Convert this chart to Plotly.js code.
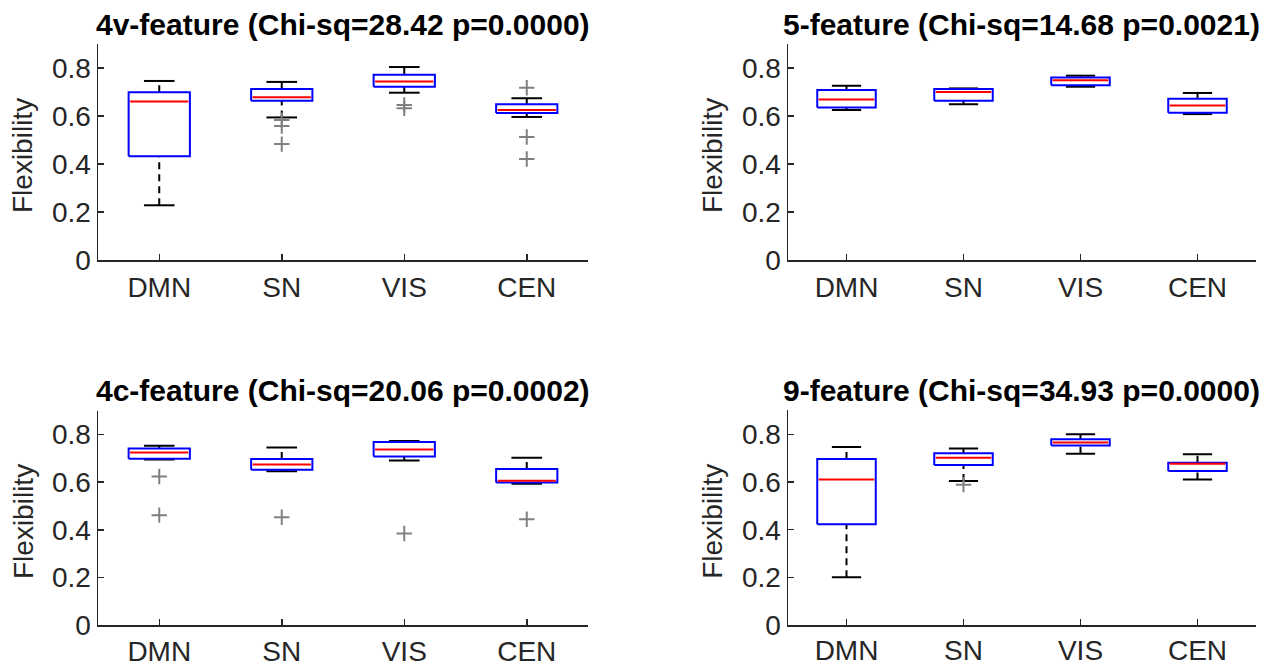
<!DOCTYPE html>
<html>
<head>
<meta charset="utf-8">
<script src="https://cdn.plot.ly/plotly-3.0.1.min.js"></script>
<style>html,body{margin:0;padding:0;background:#fff}#chart{width:1270px;height:670px}</style>
</head>
<body>
<div id="chart"></div>
<script>
// ---- data ----
const categories = ['DMN', 'SN', 'VIS', 'CEN'];
const panelTitles = ['4v-feature (Chi-sq=28.42 p=0.0000)', '5-feature (Chi-sq=14.68 p=0.0021)',
                     '4c-feature (Chi-sq=20.06 p=0.0002)', '9-feature (Chi-sq=34.93 p=0.0000)'];
const yTickVals = [0, 0.2, 0.4, 0.6, 0.8];
const yLabel = 'Flexibility';

// 4v-feature
const v4_lower  = [0.228, 0.594, 0.697, 0.596];
const v4_q1     = [0.432, 0.664, 0.722, 0.6125];
const v4_median = [0.660, 0.678, 0.744, 0.625];
const v4_q3     = [0.699, 0.7125, 0.772, 0.649];
const v4_upper  = [0.746, 0.742, 0.804, 0.674];
const v4_outCat = [2, 2, 2, 3, 3, 4, 4, 4];
const v4_outVal = [0.583, 0.558, 0.483, 0.646, 0.632, 0.718, 0.5125, 0.421];

// 5-feature
const f5_lower  = [0.625, 0.649, 0.722, 0.608];
const f5_q1     = [0.635, 0.664, 0.728, 0.614];
const f5_median = [0.669, 0.700, 0.749, 0.644];
const f5_q3     = [0.708, 0.7125, 0.760, 0.672];
const f5_upper  = [0.726, 0.715, 0.768, 0.696];
const f5_outCat = [];
const f5_outVal = [];

// 4c-feature
const c4_lower  = [0.695, 0.646, 0.691, 0.593];
const c4_q1     = [0.698, 0.652, 0.708, 0.599];
const c4_median = [0.724, 0.674, 0.737, 0.606];
const c4_q3     = [0.741, 0.697, 0.768, 0.655];
const c4_upper  = [0.753, 0.745, 0.773, 0.702];
const c4_outCat = [1, 1, 2, 3, 4];
const c4_outVal = [0.624, 0.462, 0.453, 0.385, 0.445];

// 9-feature
const f9_lower  = [0.201, 0.604, 0.718, 0.610];
const f9_q1     = [0.423, 0.671, 0.753, 0.646];
const f9_median = [0.610, 0.702, 0.765, 0.676];
const f9_q3     = [0.696, 0.720, 0.779, 0.681];
const f9_upper  = [0.747, 0.740, 0.800, 0.716];
const f9_outCat = [2];
const f9_outVal = [0.589];

// ---- build ----
const panels = [
  {lower: v4_lower, q1: v4_q1, med: v4_median, q3: v4_q3, upper: v4_upper, oc: v4_outCat, ov: v4_outVal},
  {lower: f5_lower, q1: f5_q1, med: f5_median, q3: f5_q3, upper: f5_upper, oc: f5_outCat, ov: f5_outVal},
  {lower: c4_lower, q1: c4_q1, med: c4_median, q3: c4_q3, upper: c4_upper, oc: c4_outCat, ov: c4_outVal},
  {lower: f9_lower, q1: f9_q1, med: f9_median, q3: f9_q3, upper: f9_upper, oc: f9_outCat, ov: f9_outVal}
];

const W = 1270, H = 670;
// pixel frames of each axes: [left, right, bottom(y=0), top]
const frames = [
  [98, 588, 260, 44],
  [788, 1256, 260, 44],
  [98, 588, 625.4, 410.6],
  [788, 1256, 625.2, 410.4]
];
const labelStandoff = [2, 2, 0, 0];

const FONT = 'Liberation Sans, Arial, Helvetica, sans-serif';
const AX = '#262626';
const pos = categories.map((c, i) => i + 1);
const boxW = 0.5, capW = 0.25;

const traces = [];
const layout = {
  width: W, height: H, margin: {l: 0, r: 0, t: 0, b: 0},
  paper_bgcolor: '#fff', plot_bgcolor: '#fff', showlegend: false,
  font: {family: FONT, color: AX},
  annotations: []
};

panels.forEach((p, k) => {
  const n = k + 1;
  const xa = n === 1 ? 'x' : 'x' + n;
  const ya = n === 1 ? 'y' : 'y' + n;
  // whiskers (dashed)
  const wx = [], wy = [];
  pos.forEach((c, i) => {
    wx.push(c, c, null, c, c, null);
    wy.push(p.q3[i], p.upper[i], null, p.lower[i], p.q1[i], null);
  });
  traces.push({type: 'scatter', mode: 'lines', x: wx, y: wy,
    line: {color: '#000', width: 2, dash: '7px,5px'}, hoverinfo: 'skip', xaxis: xa, yaxis: ya});
  // caps
  const cx = [], cy = [];
  pos.forEach((c, i) => {
    cx.push(c - capW / 2, c + capW / 2, null, c - capW / 2, c + capW / 2, null);
    cy.push(p.upper[i], p.upper[i], null, p.lower[i], p.lower[i], null);
  });
  traces.push({type: 'scatter', mode: 'lines', x: cx, y: cy,
    line: {color: '#000', width: 2}, hoverinfo: 'skip', xaxis: xa, yaxis: ya});
  // boxes (blue outline, Q1..Q3)
  const bx = [], by = [];
  pos.forEach((c, i) => {
    const a = c - boxW / 2, b = c + boxW / 2;
    bx.push(a, b, b, a, a, null);
    by.push(p.q1[i], p.q1[i], p.q3[i], p.q3[i], p.q1[i], null);
  });
  traces.push({type: 'scatter', mode: 'lines', x: bx, y: by,
    line: {color: '#0000ff', width: 2}, hoverinfo: 'skip', xaxis: xa, yaxis: ya});
  // medians
  const mx = [], my = [];
  pos.forEach((c, i) => {
    mx.push(c - boxW / 2 + 0.012, c + boxW / 2 - 0.012, null);
    my.push(p.med[i], p.med[i], null);
  });
  traces.push({type: 'scatter', mode: 'lines', x: mx, y: my,
    line: {color: '#ff0000', width: 2}, hoverinfo: 'skip', xaxis: xa, yaxis: ya});
  // outliers
  traces.push({type: 'scatter', mode: 'markers', x: p.oc, y: p.ov,
    marker: {symbol: 'cross-thin-open', size: 11, color: '#808080', line: {color: '#808080', width: 2}},
    hoverinfo: 'skip', xaxis: xa, yaxis: ya});

  const f = frames[k];
  const xKey = n === 1 ? 'xaxis' : 'xaxis' + n;
  const yKey = n === 1 ? 'yaxis' : 'yaxis' + n;
  layout[xKey] = {
    domain: [f[0] / W, f[1] / W], anchor: ya, range: [0.5, 4.5],
    tickmode: 'array', tickvals: pos, ticktext: categories,
    ticks: 'inside', ticklen: 6, tickwidth: 1.5, tickcolor: AX, ticklabelstandoff: labelStandoff[k],
    showline: true, linecolor: AX, linewidth: 1.5, showgrid: false, zeroline: false,
    tickfont: {family: FONT, size: 28, color: AX}, fixedrange: true
  };
  layout[yKey] = {
    domain: [1 - f[2] / H, 1 - f[3] / H], anchor: xa, range: [0, 0.9],
    tickmode: 'array', tickvals: yTickVals, ticktext: yTickVals.map(v => v === 0 ? '0' : v.toFixed(1)),
    ticks: 'inside', ticklen: 6, tickwidth: 1.5, tickcolor: AX,
    showline: true, linecolor: AX, linewidth: 1.5, showgrid: false, zeroline: false,
    tickfont: {family: FONT, size: 28, color: AX}, fixedrange: true
  };
  // title
  layout.annotations.push({
    text: '<b>' + panelTitles[k] + '</b>', xref: 'paper', yref: 'paper',
    x: (f[0] + f[1]) / 2 / W, y: 1 - (f[3] - 20) / H, xanchor: 'center', yanchor: 'middle',
    showarrow: false, font: {family: FONT, size: 30, color: '#000'}
  });
  // y label
  layout.annotations.push({
    text: yLabel, xref: 'paper', yref: 'paper', textangle: -90,
    x: (f[0] - 75) / W, y: 1 - ((f[2] + f[3]) / 2 + 4) / H, xanchor: 'center', yanchor: 'middle',
    showarrow: false, font: {family: FONT, size: 28, color: AX}
  });
});

Plotly.newPlot('chart', traces, layout, {displayModeBar: false, staticPlot: true});
</script>
</body>
</html>
